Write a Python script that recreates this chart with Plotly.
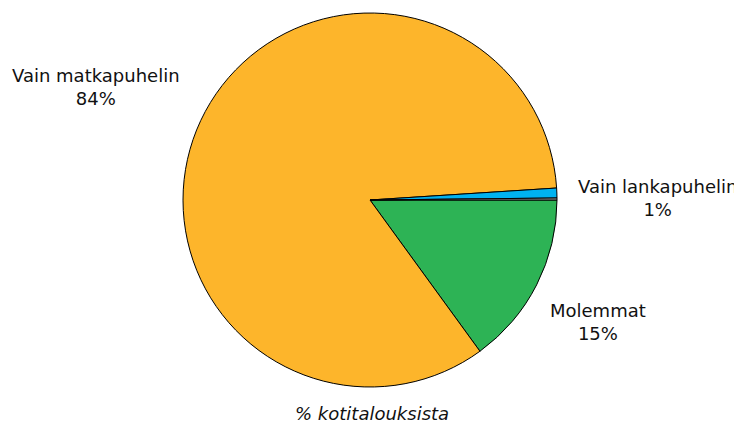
import plotly.graph_objects as go

labels = ["Molemmat", "Vain matkapuhelin", "Vain lankapuhelin", "Muu"]
values = [15.0, 84.0, 0.85, 0.17]
shown_pct = ["15%", "84%", "1%", ""]
colors = ["#2DB355", "#FDB52B", "#00B2F0", "#A6A6A6"]

# page body has an 8px margin; work in figure pixels = screen pixels - 8
OFF = 8
W, H = 742 - OFF, 428 - OFF
cx, cy, r = 370 - OFF, 200 - OFF, 187

fig = go.Figure(go.Pie(
    labels=labels, values=values, sort=False, direction="clockwise", rotation=90,
    marker=dict(colors=colors, line=dict(color="black", width=1)),
    textinfo="none", hoverinfo="label+percent",
    domain=dict(x=[(cx - r) / W, (cx + r) / W], y=[1 - (cy + r) / H, 1 - (cy - r) / H]),
))

font = dict(family="DejaVu Sans, Liberation Sans, Arial, sans-serif", size=18, color="#111111")
label_pos = {"Vain matkapuhelin": (96, 87), "Vain lankapuhelin": (657, 198), "Molemmat": (598, 322)}
for lab, pct in zip(labels, shown_pct):
    if lab in label_pos:
        px, py = label_pos[lab]
        fig.add_annotation(x=(px - OFF) / W, y=1 - (py - OFF) / H, xref="paper", yref="paper",
                           text=f"{lab}<br>{pct}", showarrow=False, font=font,
                           xanchor="center", yanchor="middle")

fig.add_annotation(x=(372 - OFF) / W, y=1 - (413 - OFF) / H, xref="paper", yref="paper",
                   text="<i>% kotitalouksista</i>", showarrow=False, font=font,
                   xanchor="center", yanchor="middle")

fig.update_layout(width=W, height=H, margin=dict(l=0, r=0, t=0, b=0),
                  paper_bgcolor="white", plot_bgcolor="white", showlegend=False)
fig.write_html("out.html")
